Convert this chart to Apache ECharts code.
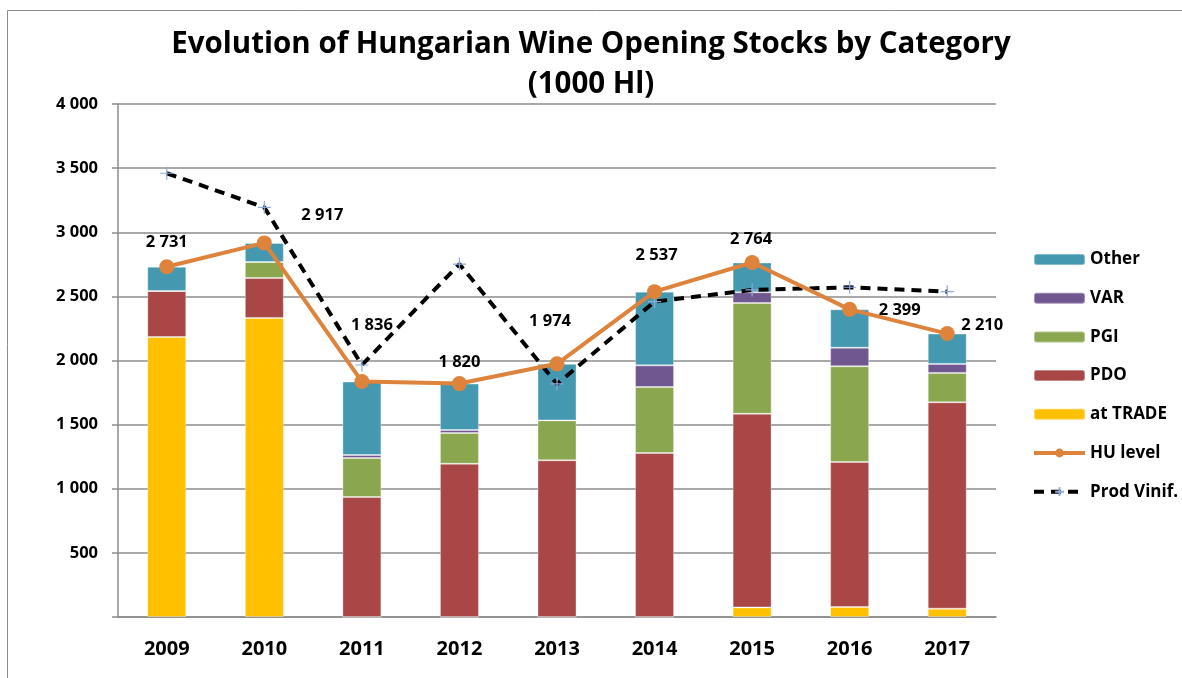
<!DOCTYPE html>
<html>
<head>
<meta charset="utf-8">
<script src="https://cdn.jsdelivr.net/npm/echarts@6/dist/echarts.min.js"></script>
<style>
  html, body { margin: 0; padding: 0; background: #fff; }
  #chart { width: 1182px; height: 678px; }
</style>
</head>
<body>
<div id="chart"></div>
<script>
// data (1000 hl)
const years = ['2009', '2010', '2011', '2012', '2013', '2014', '2015', '2016', '2017']
const atTrade = [2183, 2331, 0, 0, 0, 0, 75, 78, 65]
const pdo = [359, 312, 936, 1195, 1222, 1279, 1510, 1131, 1609]
const pgi = [0, 125, 304, 240, 311, 514, 863, 746, 229]
const varCat = [0, 0, 23, 23, 0, 169, 84, 145, 70]
const other = [189, 149, 573, 362, 441, 575, 232, 299, 237]
const huLevel = [2731, 2917, 1836, 1820, 1974, 2537, 2764, 2399, 2210]
const prodVinif = [3460, 3194, 1965, 2752, 1817, 2459, 2550, 2571, 2537]
const yTicks = [0, 500, 1000, 1500, 2000, 2500, 3000, 3500, 4000]

// hand placed label offsets, like the excel original
const labelOffsets = [[0, -24], [58, -28], [10, -56], [0, -21], [-7, -43], [2, -36], [-1, -23], [50, 1], [35, -8]]

const FONT = '"Open Sans", "Noto Sans", sans-serif'

const fmt = v => String(v).replace(/\B(?=(\d{3})+(?!\d))/g, ' ')

const chart = echarts.init(document.getElementById('chart'))

function barSeries(name, data, color) {
    return {
        name,
        type: 'bar',
        stack: 'stock',
        data,
        barWidth: 39,
        itemStyle: { color, borderColor: 'rgba(255,255,255,0.35)', borderWidth: 1 }
    }
}

chart.setOption({
    backgroundColor: '#fff',
    animation: false,
    textStyle: { fontFamily: FONT },
    graphic: [{
        type: 'rect',
        shape: { x: 7.5, y: 10.5, width: 1200, height: 700 },
        style: { fill: 'none', stroke: '#8c8c8c', lineWidth: 1 },
        silent: true
    }],
    title: {
        text: 'Evolution of Hungarian Wine Opening Stocks by Category\n(1000 Hl)',
        left: 586,
        textAlign: 'center',
        top: 20,
        textStyle: { fontFamily: FONT, fontSize: 29.5, fontWeight: 'bold', color: '#000', lineHeight: 40 }
    },
    legend: {
        orient: 'vertical',
        left: 1032,
        top: 251,
        padding: 0,
        itemWidth: 51,
        itemHeight: 11,
        itemGap: 21.7,
        textStyle: { fontFamily: FONT, fontSize: 17, fontWeight: 'bold', color: '#000' },
        data: [
            'Other', 'VAR', 'PGI', 'PDO', 'at TRADE',
            { name: 'HU level', lineStyle: { width: 4 } },
            { name: 'Prod Vinif.', lineStyle: { width: 4 } }
        ]
    },
    grid: { left: 118, right: 186, top: 104, bottom: 61 },
    xAxis: [{
        type: 'category',
        data: years,
        axisLine: { lineStyle: { color: '#8c8c8c', width: 1.5 } },
        axisTick: { length: 7, lineStyle: { color: '#8c8c8c', width: 1.5 } },
        axisLabel: { margin: 22, fontFamily: FONT, fontSize: 20, fontWeight: 'bold', color: '#000' }
    }, {
        type: 'category',
        data: years,
        position: 'bottom',
        axisLine: { show: false },
        axisTick: { inside: true, alignWithLabel: true, length: 5, lineStyle: { color: '#8c8c8c', width: 1.5 } },
        axisLabel: { show: false }
    }],
    yAxis: {
        type: 'value',
        min: yTicks[0],
        max: yTicks[yTicks.length - 1],
        interval: 500,
        axisLine: { show: true, lineStyle: { color: '#8c8c8c', width: 1.5 } },
        axisTick: { show: true, length: 6, lineStyle: { color: '#8c8c8c', width: 1.5 } },
        splitLine: { lineStyle: { color: '#8c8c8c', width: 1.5 } },
        axisLabel: {
            margin: 20,
            fontFamily: FONT, fontSize: 16.5, fontWeight: 'bold', color: '#000',
            formatter: v => (v === 0 ? '' : fmt(v))
        }
    },
    series: [
        barSeries('at TRADE', atTrade, '#FFC000'),
        barSeries('PDO', pdo, '#A84745'),
        barSeries('PGI', pgi, '#8AA64E'),
        barSeries('VAR', varCat, '#71578F'),
        barSeries('Other', other, '#4499B1'),
        {
            name: 'HU level',
            type: 'line',
            data: huLevel.map((v, i) => ({
                value: v,
                label: { offset: labelOffsets[i] }
            })),
            symbol: 'circle',
            symbolSize: 15,
            lineStyle: { color: '#DE833B', width: 4 },
            itemStyle: { color: '#DE833B' },
            z: 5,
            label: {
                show: true,
                position: 'inside',
                formatter: p => fmt(p.value),
                fontFamily: FONT, fontSize: 16.5, fontWeight: 'bold', color: '#000'
            }
        },
        {
            name: 'Prod Vinif.',
            type: 'line',
            data: prodVinif,
            symbol: 'path://M0,5 L10,5 M5,0 L5,10',
            symbolSize: 13,
            lineStyle: { color: '#000', width: 4, type: [10, 7] },
            itemStyle: { color: '#8EA9DB', borderColor: '#8EA9DB', borderWidth: 1.2 },
            z: 4
        }
    ]
})
</script>
</body>
</html>
